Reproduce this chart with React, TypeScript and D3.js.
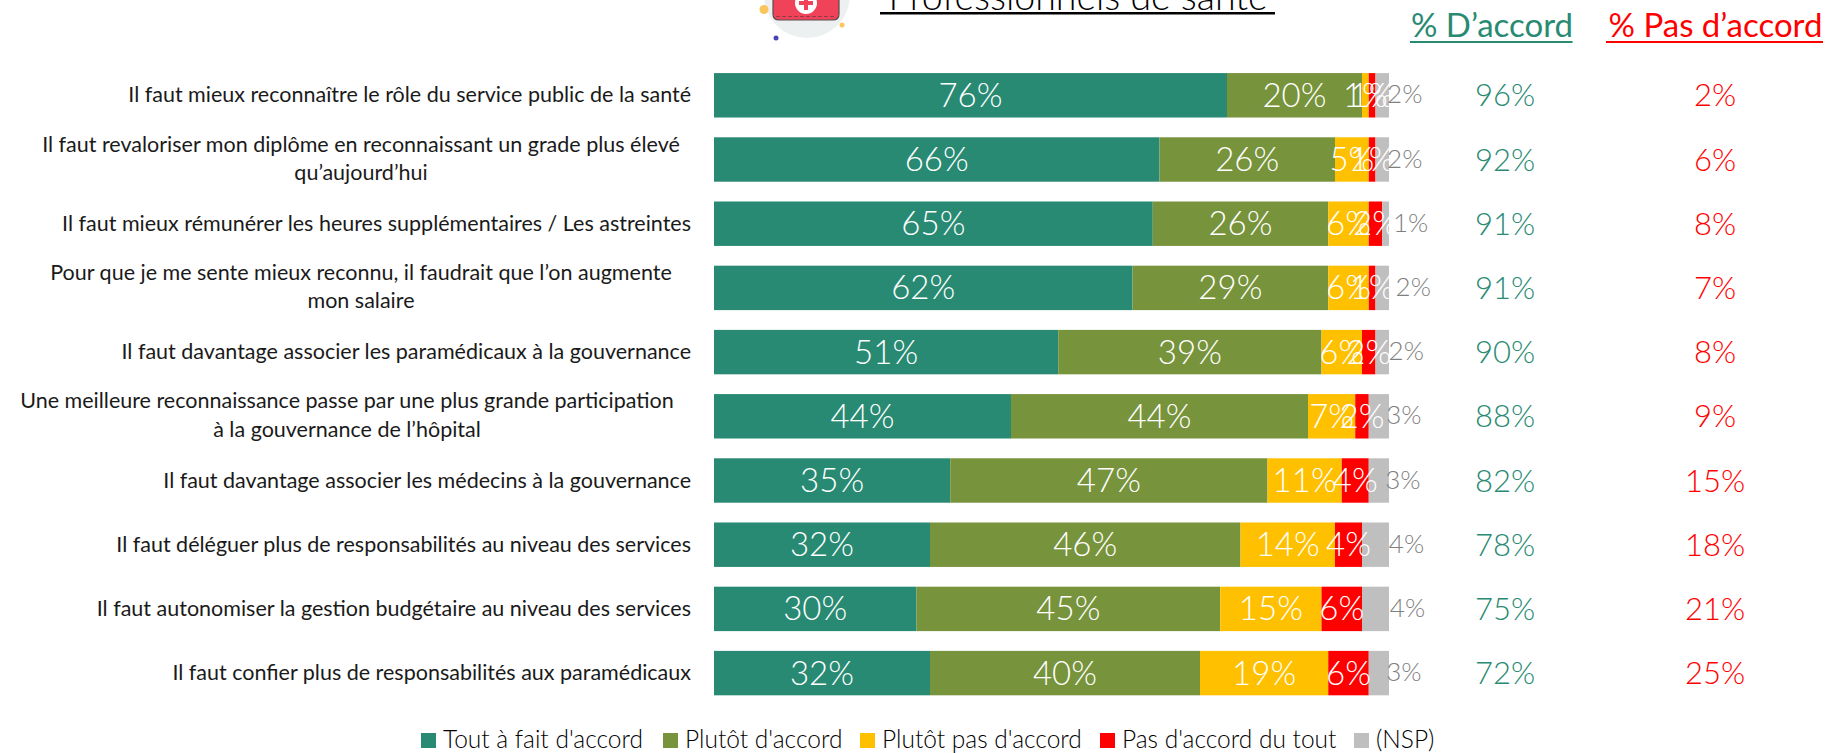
import React from "react";
import * as d3 from "d3";

const categories = [
  ["Il faut mieux reconnaître le rôle du service public de la santé"],
  ["Il faut revaloriser mon diplôme en reconnaissant un grade plus élevé", "qu’aujourd’hui"],
  ["Il faut mieux rémunérer les heures supplémentaires / Les astreintes"],
  ["Pour que je me sente mieux reconnu, il faudrait que l’on augmente", "mon salaire"],
  ["Il faut davantage associer les paramédicaux à la gouvernance"],
  ["Une meilleure reconnaissance passe par une plus grande participation", "à la gouvernance de l’hôpital"],
  ["Il faut davantage associer les médecins à la gouvernance"],
  ["Il faut déléguer plus de responsabilités au niveau des services"],
  ["Il faut autonomiser la gestion budgétaire au niveau des services"],
  ["Il faut confier plus de responsabilités aux paramédicaux"],
];
const seriesNames = ["Tout à fait d'accord", "Plutôt d'accord", "Plutôt pas d'accord", "Pas d'accord du tout", "(NSP)"];
const toutAFait = [76, 66, 65, 62, 51, 44, 35, 32, 30, 32];
const plutot = [20, 26, 26, 29, 39, 44, 47, 46, 45, 40];
const plutotPas = [1, 5, 6, 6, 6, 7, 11, 14, 15, 19];
const pasDuTout = [1, 1, 2, 1, 2, 2, 4, 4, 6, 6];
const nsp = [2, 2, 1, 2, 2, 3, 3, 4, 4, 3];
const totalAccord = [96, 92, 91, 91, 90, 88, 82, 78, 75, 72];
const totalPasAccord = [2, 6, 8, 7, 8, 9, 15, 18, 21, 25];
const colors = ["#288A72", "#77933C", "#FFC000", "#FF0000", "#BFBFBF"];
const nspNudge = [22.5, 22.5, 25, 31, 24, 25, 24, 31, 32, 25];

const FONT = "Lato";
const W = 1839, H = 753;

export default function App() {
  const x = d3.scaleLinear().domain([0, 100]).range([714, 1389]);
  const y = d3.scaleBand<number>().domain(d3.range(10)).range([63.2, 705.2]).paddingInner(0.308).paddingOuter(0.154);
  const rows = categories.map((_, i) => [toutAFait[i], plutot[i], plutotPas[i], pasDuTout[i], nsp[i]]);
  const legendX = [421, 663, 860, 1100, 1354];
  return (
    <svg width={W} height={H} style={{ position: "fixed", left: 0, top: 0, background: "#fff" }} fontFamily={FONT} fontWeight={300}>
      {/* icon */}
      <circle cx={807} cy={-5} r={43} fill="#EDF0F1" />
      <circle cx={764} cy={9.5} r={4.5} fill="#F9C65B" />
      <circle cx={842} cy={25} r={2.5} fill="#F9C65B" />
      <circle cx={776} cy={38} r={2.5} fill="#4A45B5" />
      <path d="M773,-6 H839 V14 Q839,20 833,20 H779 Q773,20 773,14 Z" fill="#F0435A" stroke="#5a4a50" strokeWidth={1.2} />
      <path d="M776,16.5 H836" stroke="#7a3a48" strokeWidth={0.8} strokeDasharray="4 2" fill="none" />
      <circle cx={806} cy={3} r={11} fill="#fff" />
      <path d="M804,-4 h4 v5 h5 v4 h-5 v5 h-4 v-5 h-5 v-4 h5 Z" fill="#F0435A" />
      {/* title */}
      <text x={1078} y={10} textAnchor="middle" fontSize={37.5} fill="#000">Professionnels de santé</text>
      <rect x={880} y={12} width={395} height={2.5} fill="#000" />
      {/* column heads */}
      <text x={1492} y={37} textAnchor="middle" fontSize={33} fill={colors[0]} fontWeight={400}>% D’accord</text>
      <rect x={1410} y={41} width={162.5} height={2} fill={colors[0]} />
      <text x={1715.5} y={37} textAnchor="middle" fontSize={33} fill="#FF0000" fontWeight={400}>% Pas d’accord</text>
      <rect x={1606} y={41} width={217} height={2} fill="#FF0000" />
      {rows.map((vals, i) => {
        const stack = d3.cumsum(vals);
        const bw = y.bandwidth();
        const y0 = y(i)!;
        const cy = y0 + bw / 2;
        const lines = categories[i];
        return (
          <g key={i}>
            {lines.length === 1 ? (
              <text x={691} y={cy + 7} textAnchor="end" fontSize={21.5} fontWeight={400} fill="#1a1a1a">{lines[0]}</text>
            ) : (
              <text fontSize={21.5} fontWeight={400} fill="#1a1a1a" textAnchor="middle">
                <tspan x={i === 5 ? 347 : 361} y={cy - 8}>{lines[0]}</tspan>
                <tspan x={i === 5 ? 347 : 361} y={cy + 20.5}>{lines[1]}</tspan>
              </text>
            )}
            {vals.map((v, j) => (
              <rect key={j} x={x(stack[j] - v)} y={y0} width={x(v) - x(0)} height={bw} fill={colors[j]} />
            ))}
            {vals.map((v, j) => {
              const c = x(stack[j] - v / 2);
              return j < 4 ? (
                <text key={j} x={c} y={cy + 11.5} textAnchor="middle" fontSize={33} fill="#fff">{v}%</text>
              ) : (
                <text key={j} x={c + nspNudge[i]} y={cy + 8} textAnchor="middle" fontSize={26} fill="#7F7F7F">{v}%</text>
              );
            })}
            <text x={1505} y={cy + 11} textAnchor="middle" fontSize={31} fill={colors[0]}>{totalAccord[i]}%</text>
            <text x={1715} y={cy + 11} textAnchor="middle" fontSize={31} fill="#FF0000">{totalPasAccord[i]}%</text>
          </g>
        );
      })}
      {seriesNames.map((s, i) => (
        <g key={s}>
          <rect x={legendX[i]} y={733} width={15} height={15} fill={colors[i]} />
          <text x={legendX[i] + 22} y={748} fontSize={24.5} fontWeight={300} fill="#000">{s}</text>
        </g>
      ))}
    </svg>
  );
}
